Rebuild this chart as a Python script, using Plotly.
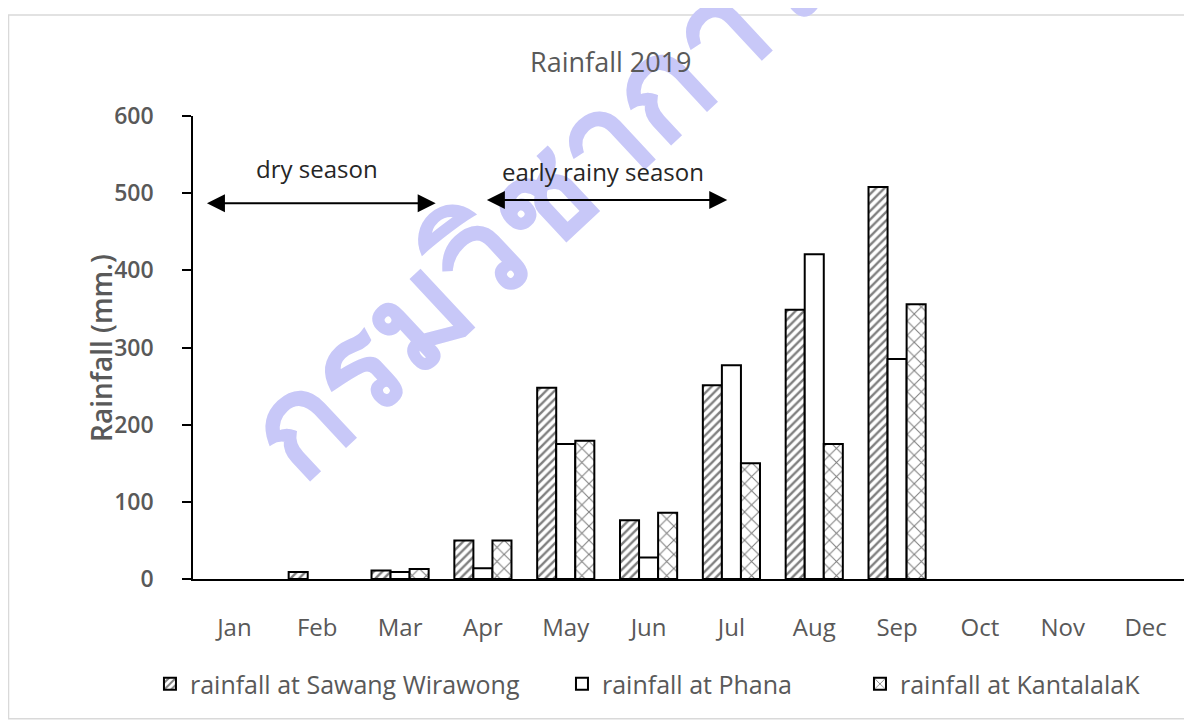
import plotly.graph_objects as go

months = ["Jan", "Feb", "Mar", "Apr", "May", "Jun", "Jul", "Aug", "Sep", "Oct", "Nov", "Dec"]
sawang = [None, 9, 11, 50, 248, 76, 251, 349, 508, None, None, None]
phana = [None, None, 9, 14, 175, 28, 277, 421, 285, None, None, None]
kanta = [None, None, 13, 50, 179, 86, 150, 175, 356, None, None, None]

series_names = ["rainfall at Sawang Wirawong", "rainfall at Phana", "rainfall at KantalalaK"]
y_ticks = [0, 100, 200, 300, 400, 500, 600]

FONT = "Open Sans"
GRAY = "#595959"

fig = go.Figure()
fig.add_trace(go.Bar(
    x=months, y=sawang, name=series_names[0], legend="legend",
    marker=dict(color="white", line=dict(color="black", width=2),
                pattern=dict(shape="/", fgcolor="black", bgcolor="white", size=6, solidity=0.4)),
))
fig.add_trace(go.Bar(
    x=months, y=phana, name=series_names[1], legend="legend2",
    marker=dict(color="white", line=dict(color="black", width=2)),
))
fig.add_trace(go.Bar(
    x=months, y=kanta, name=series_names[2], legend="legend3",
    marker=dict(color="white", line=dict(color="black", width=2),
                pattern=dict(shape="x", fgcolor="black", bgcolor="white", size=10, solidity=0.2)),
))

annotations = [
    # watermark (drawn first, so the other texts sit above it)
    dict(text="กรมวิชาการเกษตร", xref="paper", yref="paper", x=0.481, y=2.07,
         showarrow=False, textangle=-43,
         font=dict(family="Noto Sans, sans-serif", size=137, color="#c8c8f8", weight="bold")),
    # chart title
    dict(text="Rainfall 2019", xref="paper", yref="paper", x=(611 - 193) / 994, y=(579 - 62) / 463,
         showarrow=False, xanchor="center", yanchor="middle",
         font=dict(family=FONT, size=27, color=GRAY)),
    dict(text="Rainfall (mm.)", xref="paper", yref="paper", x=-0.1137, y=0.499,
         showarrow=False, textangle=-90,
         font=dict(family=FONT, size=28, color=GRAY, weight=600)),
    dict(text="dry season", x=1.0, y=532, xref="x", yref="y", showarrow=False,
         font=dict(family=FONT, size=24, color="#262626")),
    dict(text="early rainy season", x=4.45, y=528, xref="x", yref="y", showarrow=False,
         font=dict(family=FONT, size=24, color="#262626")),
    dict(x=2.43, y=487, ax=-0.35, ay=487, xref="x", yref="y", axref="x", ayref="y",
         text="", showarrow=True, arrowhead=2, startarrowhead=2, arrowside="end+start",
         arrowwidth=2, arrowsize=1.8, startarrowsize=1.8, arrowcolor="black"),
    dict(x=5.95, y=491, ax=3.03, ay=491, xref="x", yref="y", axref="x", ayref="y",
         text="", showarrow=True, arrowhead=2, startarrowhead=2, arrowside="end+start",
         arrowwidth=2, arrowsize=1.8, startarrowsize=1.8, arrowcolor="black"),
]

legend_common = dict(orientation="h", xanchor="left", y=-0.227, yanchor="middle",
                     font=dict(family=FONT, size=25, color=GRAY), bgcolor="rgba(0,0,0,0)")

fig.update_layout(
    width=1184, height=712,
    margin=dict(l=185, r=5, t=108, b=141),
    paper_bgcolor="white", plot_bgcolor="rgba(0,0,0,0)",
    barmode="group", bargap=0.31, bargroupgap=0,
    showlegend=True,
    legend=dict(x=-0.0433, **legend_common),
    legend2=dict(x=0.3712, **legend_common),
    legend3=dict(x=0.671, **legend_common),
    annotations=annotations,
    shapes=[dict(type="rect", xref="paper", yref="paper", x0=-0.1856, x1=1.004, y0=-0.302, y1=1.218,
                 line=dict(color="#d9d9d9", width=1.5), layer="below")],
)
fig.update_xaxes(showline=True, linecolor="black", linewidth=1.5, ticks="", showgrid=False,
                 tickfont=dict(family=FONT, size=24, color=GRAY), ticklabelstandoff=26,
                 categoryorder="array", categoryarray=months)
fig.update_yaxes(range=[0, 600], tickvals=y_ticks, showline=True, linecolor="black", linewidth=1.5,
                 ticks="outside", ticklen=9, tickcolor="black", tickwidth=1.5, showgrid=False,
                 zeroline=False, tickfont=dict(family=FONT, size=23, color=GRAY, weight=600),
                 ticklabelstandoff=24)

fig.write_html("out.html")
